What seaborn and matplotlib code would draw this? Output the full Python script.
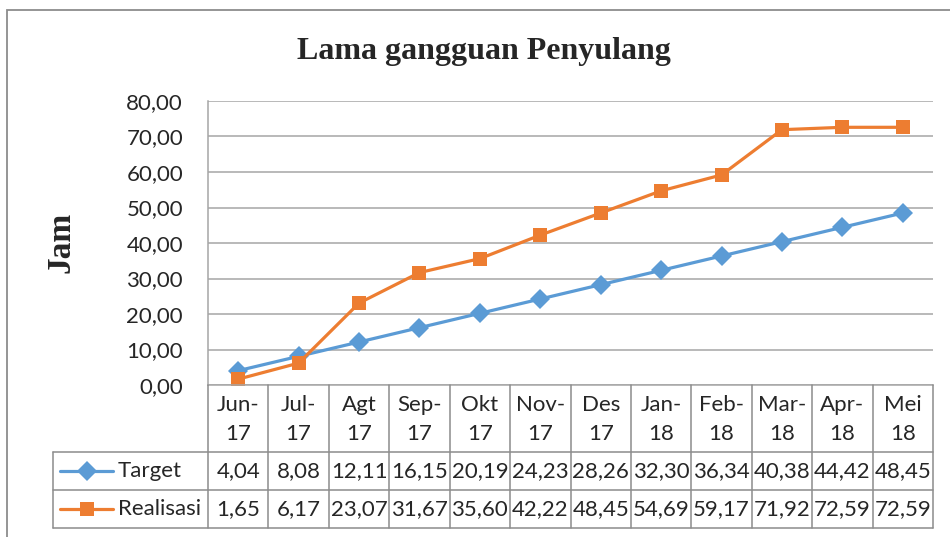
import matplotlib
matplotlib.use("Agg")
import matplotlib.pyplot as plt
import matplotlib.transforms as mtransforms
from matplotlib.lines import Line2D
from matplotlib.patches import Rectangle
import numpy as np
import pandas as pd
import seaborn as sns

# ── Data ────────────────────────────────────────────
months = ["Jun-\n17", "Jul-\n17", "Agt\n17", "Sep-\n17", "Okt\n17", "Nov-\n17",
          "Des\n17", "Jan-\n18", "Feb-\n18", "Mar-\n18", "Apr-\n18", "Mei\n18"]
target = [4.04, 8.08, 12.11, 16.15, 20.19, 24.23, 28.26, 32.30, 36.34, 40.38, 44.42, 48.45]
realisasi = [1.65, 6.17, 23.07, 31.67, 35.60, 42.22, 48.45, 54.69, 59.17, 71.92, 72.59, 72.59]
series_names = ["Target", "Realisasi"]
yticks = [0, 10, 20, 30, 40, 50, 60, 70, 80]

BLUE = "#5B9BD5"
ORANGE = "#ED7D31"
GRID = "#A6A6A6"
BORDER = "#8C8C8C"
W, H = 950, 537

df = pd.DataFrame({
    "idx": list(range(len(months))) * 2,
    "val": target + realisasi,
    "series": [series_names[0]] * len(months) + [series_names[1]] * len(months),
})

sns.set_theme(style="white")
plt.rcParams["font.family"] = ["Lato", "DejaVu Sans"]

fig = plt.figure(figsize=(W / 100, H / 100), dpi=100)


def fx(x):
    return x / W


def fy(y):
    return 1 - y / H


# plot area in pixel coordinates of the reference
left, right, top, bottom = 208, 933, 101, 385
ax = fig.add_axes([fx(left), fy(bottom), fx(right) - fx(left), fy(top) - fy(bottom)])

palette = {"Target": BLUE, "Realisasi": ORANGE}
markers = {"Target": "D", "Realisasi": "s"}
sns.lineplot(data=df, x="idx", y="val", hue="series", style="series",
             palette=palette, markers=markers, dashes=False, linewidth=2.3,
             markersize=10, markeredgewidth=0, legend=False, ax=ax)

ax.set_xlim(-0.5, len(months) - 0.5)
ax.set_ylim(0, 80)
ax.set_yticks(yticks)
ax.set_yticklabels([f"{v:.2f}".replace(".", ",") for v in yticks], fontsize=16)
ax.tick_params(axis="y", length=0, pad=18)
ax.set_xticks([])
ax.set_xlabel("")
ax.set_ylabel("")
ax.yaxis.grid(True, color=GRID, linewidth=1.1)
for side in ["top", "right"]:
    ax.spines[side].set_visible(False)
for side in ["left", "bottom"]:
    ax.spines[side].set_color(GRID)
    ax.spines[side].set_linewidth(1.1)

# titles
fig.text(fx(484), fy(52), "Lama gangguan Penyulang", ha="center", va="center",
         fontsize=23, fontweight="bold", family="Liberation Serif")
fig.text(fx(61), fy(242), "Jam", ha="center", va="center", rotation=90,
         fontsize=24, fontweight="bold", family="Liberation Serif")

# outer chart border
fig.patches.append(Rectangle((fx(7), fy(H + 20)), 1.2, fy(10) - fy(H + 20),
                             transform=fig.transFigure, fill=False,
                             edgecolor=BORDER, linewidth=1.3))

# ── Data table ───────────────────────────────────────
trans = mtransforms.blended_transform_factory(ax.transData, fig.transFigure)
y_head_top, y_row1, y_row2, y_row3 = 385, 452, 490, 528
lab_left = 53
n = len(months)
edges = np.arange(n + 1) - 0.5

# vertical lines between columns
for e in edges:
    fig.add_artist(Line2D([e, e], [fy(y_head_top), fy(y_row3)], transform=trans,
                          color=BORDER, linewidth=1.1))
# horizontal lines
for yy in [y_row1, y_row2, y_row3]:
    fig.add_artist(Line2D([fx(lab_left), fx(right)], [fy(yy), fy(yy)],
                          transform=fig.transFigure, color=BORDER, linewidth=1.1))
fig.add_artist(Line2D([fx(lab_left), fx(lab_left)], [fy(y_row1), fy(y_row3)],
                      transform=fig.transFigure, color=BORDER, linewidth=1.1))

# header text
for i, m in enumerate(months):
    top_txt, bot_txt = m.split("\n")
    ax.text(i, fy(405), top_txt, transform=trans, ha="center", va="center", fontsize=16)
    ax.text(i, fy(434), bot_txt, transform=trans, ha="center", va="center", fontsize=16)

# rows
for r, (name, vals) in enumerate(zip(series_names, [target, realisasi])):
    yc = fy((y_row1, y_row2)[r] + 19)
    for i, v in enumerate(vals):
        ax.text(i, yc, f"{v:.2f}".replace(".", ","), transform=trans,
                ha="center", va="center", fontsize=16)
    fig.add_artist(Line2D([fx(60), fx(113)], [yc, yc], transform=fig.transFigure,
                          color=palette[name], linewidth=2.3))
    fig.add_artist(Line2D([fx(86.5)], [yc], transform=fig.transFigure,
                          color=palette[name], marker=markers[name],
                          markersize=10, markeredgewidth=0))
    fig.text(fx(118), yc, name, ha="left", va="center", fontsize=16)

fig.savefig("out.png", dpi=100)
